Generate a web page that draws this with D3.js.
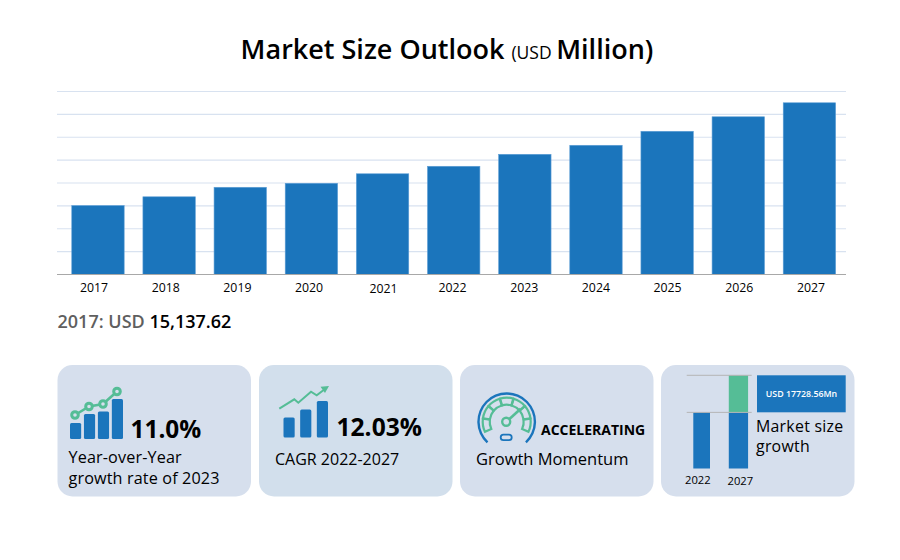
<!DOCTYPE html>
<html><head><meta charset="utf-8">
<script src="https://cdn.jsdelivr.net/npm/d3@7/dist/d3.min.js"></script>
<style>html,body{margin:0;padding:0;background:#fff}svg{display:block}text{font-family:"Open Sans",sans-serif;fill:#000}</style>
</head><body><svg id="c" width="900" height="560"></svg>
<script>
const years=["2017","2018","2019","2020","2021","2022","2023","2024","2025","2026","2027"];
const marketSize=[15137.62,17050,19130,20000,22080,23720,26340,28310,31370,34540,37600];
const yTicks=[0,5000,10000,15000,20000,25000,30000,35000,40000];
const miniYears=["2022","2027"];
const miniBase=[26830,26830];
const miniGrowth=[0,17728.56];
const yoyIconBars=[16,25,27.5,40];
const yoyIconLine=[24,32.5,35,47.5];
const cagrIconBars=[20,28,36.5];
const cards=[{x:57.5,c:"#d6dfed"},{x:259,c:"#d2dfec"},{x:460,c:"#d6dfed"},{x:661,c:"#d6dfed"}];

const blue="#1b75bc",green="#55bd96";
const svg=d3.select("#c");
const x=d3.scaleBand().domain(years).range([62.4,845]).paddingInner(.255).paddingOuter(.1275);
const xLabel=d3.scalePoint().domain(years).range([94,811]);
const y=d3.scaleLinear().domain([0,40000]).range([274.5,91.5]);

// title
const t=svg.append("text").attr("x",447).attr("y",59).attr("text-anchor","middle").attr("font-size",27).attr("font-weight",600);
t.append("tspan").text("Market Size Outlook ");
t.append("tspan").attr("font-size",17.5).attr("font-weight",500).text("(USD ");
t.append("tspan").text("Million)");

// grid + bars
svg.append("g").selectAll("line").data(yTicks.slice(1)).join("line")
 .attr("x1",57).attr("x2",846).attr("y1",d=>y(d)).attr("y2",d=>y(d)).attr("stroke","#d8e2f0").attr("stroke-width",1.1);
svg.append("g").selectAll("rect").data(years).join("rect")
 .attr("x",d=>x(d)+.3).attr("width",x.bandwidth()-.6).attr("y",(d,i)=>y(marketSize[i])+.3).attr("height",(d,i)=>y(0)-y(marketSize[i])-.3)
 .attr("fill",blue).attr("stroke","#5f9fd6").attr("stroke-width",.6);
svg.append("line").attr("x1",57).attr("x2",846).attr("y1",y(0)).attr("y2",y(0)).attr("stroke","#a8a8a8").attr("stroke-width",1);
svg.append("g").selectAll("text").data(years).join("text")
 .attr("x",d=>xLabel(d)+(d==="2021"?2.7:0)).attr("y",d=>d==="2021"?292.5:291.5).attr("text-anchor","middle").attr("font-size",12.3).attr("font-weight",500).text(d=>d);

// caption
const cap=svg.append("text").attr("x",57.5).attr("y",327.5).attr("font-size",18).attr("font-weight",600);
cap.append("tspan").attr("style","fill:#5f5f5f").text("2017: USD ");
cap.append("tspan").text("15,137.62");

// cards
svg.append("g").selectAll("rect").data(cards).join("rect")
 .attr("x",d=>d.x).attr("y",365).attr("width",193.5).attr("height",131.5).attr("rx",15).attr("fill",d=>d.c);

function label(tx,ty,s,size,weight){return svg.append("text").attr("x",tx).attr("y",ty).attr("font-size",size).attr("font-weight",weight||400).text(s);}
function label2(tx,ty,gap,a,b,size,weight,ls){const e=svg.append("text").attr("font-size",size).attr("font-weight",weight||400).attr("letter-spacing",ls||0);
 e.append("tspan").attr("x",tx).attr("y",ty).text(a);e.append("tspan").attr("x",tx).attr("y",ty+gap).text(b);return e;}

// icon 1
const ib1=d3.scaleBand().domain(d3.range(4)).range([70,123]).paddingInner(.2);
svg.append("g").selectAll("rect").data(yoyIconBars).join("rect")
 .attr("x",(d,i)=>ib1(i)).attr("width",ib1.bandwidth()).attr("y",d=>439-d).attr("height",d=>d).attr("rx",1.5).attr("fill",blue);
const il1=d3.scalePoint().domain(d3.range(4)).range([75,117]);
const pts1=yoyIconLine.map((d,i)=>[il1(i),439-d]);
svg.append("path").attr("d",d3.line()(pts1)).attr("fill","none").attr("stroke",green).attr("stroke-width",2.6);
svg.append("g").selectAll("circle").data(pts1).join("circle").attr("cx",d=>d[0]).attr("cy",d=>d[1]).attr("r",3.3).attr("fill","#d6dfed").attr("stroke",green).attr("stroke-width",3);
label(130.5,437.5,"11.0%",24.4,700);
label2(68.5,463.2,21,"Year-over-Year","growth rate of 2023",16.2,500,.13);

// icon 2
const ib2=d3.scaleBand().domain(d3.range(3)).range([283.5,328]).paddingInner(.33);
svg.append("g").selectAll("rect").data(cagrIconBars).join("rect")
 .attr("x",(d,i)=>ib2(i)).attr("width",ib2.bandwidth()).attr("y",d=>437.5-d).attr("height",d=>d).attr("rx",1.5).attr("fill",blue);
svg.append("path").attr("d","M279.3 408.7L294.3 399.3L298.3 402.7L311 391.7L316.7 395.3L325 389").attr("fill","none").attr("stroke",green).attr("stroke-width",2);
svg.append("path").attr("d","M329 386L320.5 386.8L325 393Z").attr("fill",green);
label(336.5,436,"12.03%",24.6,700);
label(275,465,"CAGR 2022-2027",16,500);

// gauge
const gx=506.7,gy=421.7;
const deg=d=>d*Math.PI/180;
svg.append("path").attr("d",d3.arc().innerRadius(27).outerRadius(29.4).startAngle(deg(-137)).endAngle(deg(137))()).attr("transform",`translate(${gx},${gy})`).attr("fill",blue);
const segs=d3.range(7).map(i=>-115+i*33);
const seg=d3.arc().innerRadius(17).outerRadius(24);
svg.append("g").attr("transform",`translate(${gx},${gy})`).selectAll("path").data(segs).join("path")
 .attr("d",d=>seg({startAngle:deg(d),endAngle:deg(d+32)})).attr("fill","none").attr("stroke",green).attr("stroke-width",2.2);
svg.append("line").attr("x1",gx+3).attr("y1",gy-3).attr("x2",gx+14).attr("y2",gy-13).attr("stroke",green).attr("stroke-width",2.6);
svg.append("circle").attr("cx",gx-.5).attr("cy",gy).attr("r",4).attr("fill","none").attr("stroke",green).attr("stroke-width",2.4);
svg.append("rect").attr("x",gx-6).attr("y",gy+13).attr("width",11).attr("height",5.5).attr("rx",2.7).attr("fill","none").attr("stroke",blue).attr("stroke-width",1.8);
label(541,435,"ACCELERATING",14,700);
label(476,465,"Growth Momentum",16.5,500);

// mini chart
const mx=d3.scaleBand().domain(miniYears).range([693.3,748.3]).paddingInner(.45);
const my=d3.scaleLinear().domain([0,miniBase[0]+miniGrowth[1]]).range([468.5,375.3]);
const mg=svg.append("g");
mg.selectAll(".b").data(miniYears).join("rect").attr("class","b").attr("x",d=>mx(d)).attr("width",(d,i)=>i?19.3:16.7)
 .attr("y",(d,i)=>my(miniBase[i])).attr("height",(d,i)=>my(0)-my(miniBase[i])).attr("fill",blue);
mg.selectAll(".g").data(miniYears).join("rect").attr("class","g").attr("x",d=>mx(d)).attr("width",(d,i)=>i?19.3:16.7)
 .attr("y",(d,i)=>my(miniBase[i]+miniGrowth[i])).attr("height",(d,i)=>my(miniBase[i])-my(miniBase[i]+miniGrowth[i])).attr("fill",green);
[miniBase[0]+miniGrowth[1],miniBase[0]].forEach(v=>mg.append("line").attr("x1",686.7).attr("x2",751.7).attr("y1",my(v)).attr("y2",my(v)).attr("stroke","#b5b5b5").attr("stroke-width",1));
svg.append("rect").attr("x",757).attr("y",375.3).attr("width",88.7).attr("height",37).attr("fill",blue);
svg.append("text").attr("x",801.5).attr("y",397).attr("text-anchor","middle").attr("font-size",8.8).attr("font-weight",600).attr("style","fill:#fff").text("USD 17728.56Mn");
label2(756,432,20.2,"Market size","growth",15.9,500,.25);
label(685,484,"2022",11.2,500);
label(727.5,485,"2027",11.2,500);
</script></body></html>
